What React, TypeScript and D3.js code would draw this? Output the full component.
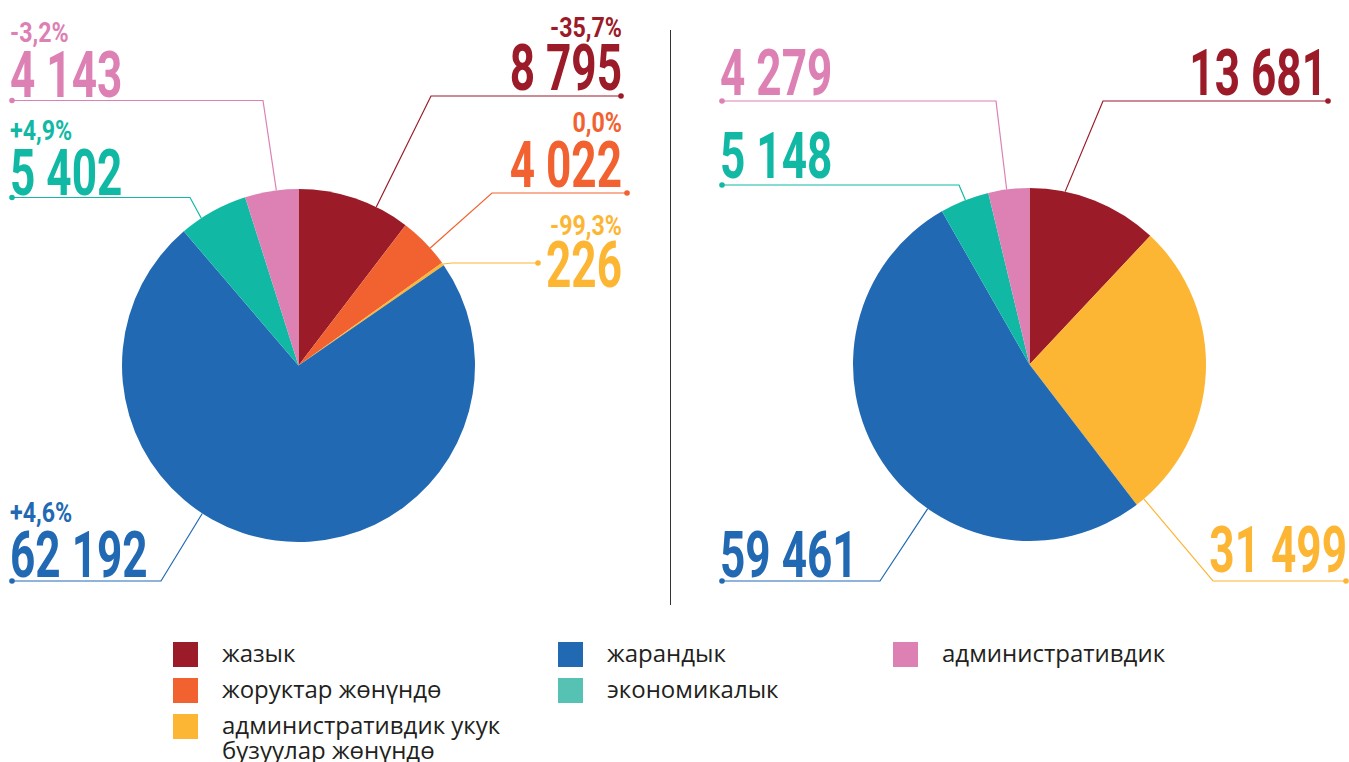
import React from 'react';
import * as d3 from 'd3';

// categories in pie order (clockwise from 12 o'clock)
const categories = [
  'жазык',
  'жоруктар жөнүндө',
  'административдик укук бузуулар жөнүндө',
  'жарандык',
  'экономикалык',
  'административдик',
];
const sliceColors = ['#9b1b28', '#f26230', '#fdb634', '#2269b3', '#11b9a5', '#dd80b4'];
const legendColors = ['#9b1b28', '#f26230', '#fdb634', '#2269b3', '#55c2b4', '#dd80b4'];

const leftValues = [8795, 4022, 226, 62192, 5402, 4143];
const leftChanges = ['-35,7%', '0,0%', '-99,3%', '+4,6%', '+4,9%', '-3,2%'];
const rightValues = [13681, 0, 31499, 59461, 5148, 4279];

// label placement (layout only)
const leftLayout = [
  { align: 'end', x: 622, pctY: 37, numY: 90, lineY: 96, dotX: 621, elbowX: 431, t: 0.7 },
  { align: 'end', x: 622, pctY: 132, numY: 187, lineY: 193, dotX: 627, elbowX: 492, t: 0.64 },
  { align: 'end', x: 622, pctY: 235, numY: 287, lineY: 263, dotX: 538, elbowX: 452, t: 0.5 },
  { align: 'start', x: 10, pctY: 522, numY: 577, lineY: 581, dotX: 12, elbowX: 161, t: 0.597 },
  { align: 'start', x: 10, pctY: 140, numY: 195, lineY: 197.5, dotX: 12, elbowX: 190, t: 0.31 },
  { align: 'start', x: 10, pctY: 42, numY: 97, lineY: 100.5, dotX: 12, elbowX: 263, t: 0.59 },
];
const rightLayout = [
  { align: 'end', x: 1327, numY: 95, lineY: 101, dotX: 1328, elbowX: 1103, t: 0.27 },
  null,
  { align: 'end', x: 1347, numY: 572, lineY: 581, dotX: 1346, elbowX: 1213, t: 0.97 },
  { align: 'start', x: 720, numY: 577, lineY: 581, dotX: 722, elbowX: 880, t: 0.387 },
  { align: 'start', x: 720, numY: 178, lineY: 185, dotX: 722, elbowX: 959, t: 0.52 },
  { align: 'start', x: 720, numY: 95, lineY: 101, dotX: 722, elbowX: 996, t: 0.45 },
];

const legendCols = [[0, 1, 2], [3, 4], [5]];
const legendX = [173, 558, 893];
const legendY = [642, 678, 714];

const W = 1349;
const H = 762;
const R = 176.5;
const NUM_FONT = "Roboto, 'Liberation Sans', sans-serif";

const fmt = (v: number) => d3.format(',')(v).replace(/,/g, ' ');

function Pie({ cx, cy, values, changes, layout }: any) {
  const pie = d3.pie<number>().sort(null).value(d => d);
  const arcs = pie(values);
  const arc = d3.arc<any>().innerRadius(0).outerRadius(R);

  return (
    <g>
      <g transform={`translate(${cx},${cy})`}>
        {arcs.map((a, i) => (
          a.value > 0 ? <path key={i} d={arc(a) as string} fill={sliceColors[i]} /> : null
        ))}
      </g>
      {arcs.map((a, i) => {
        const l = layout[i];
        if (!l || a.value <= 0) return null;
        const ang = a.startAngle + (a.endAngle - a.startAngle) * l.t;
        const ex = cx + R * Math.sin(ang);
        const ey = cy - R * Math.cos(ang);
        const color = sliceColors[i];
        return (
          <g key={i}>
            <polyline
              points={`${l.dotX},${l.lineY} ${l.elbowX},${l.lineY} ${ex},${ey}`}
              fill="none"
              stroke={color}
              strokeWidth={1.2}
            />
            <circle cx={l.dotX} cy={l.lineY} r={2.8} fill={color} />
            {changes && (
              <text
                transform={`translate(${l.x},${l.pctY}) scale(0.86,1)`}
                textAnchor={l.align}
                fill={color}
                fontFamily={NUM_FONT}
                fontWeight="bold"
                fontSize={27}
              >
                {changes[i]}
              </text>
            )}
            <text
              transform={`translate(${l.x},${l.numY}) scale(0.69,1)`}
              textAnchor={l.align}
              fill={color}
              fontFamily={NUM_FONT}
              fontWeight="bold"
              fontSize={64}
            >
              {fmt(a.value)}
            </text>
          </g>
        );
      })}
    </g>
  );
}

export default function App() {
  return (
    <div style={{ width: W, height: H, background: '#fff' }}>
      <style>{'body{margin:0}'}</style>
      <svg width={W} height={H} viewBox={`0 0 ${W} ${H}`}>
        <rect width={W} height={H} fill="#fff" />
        <Pie cx={298.5} cy={365.5} values={leftValues} changes={leftChanges} layout={leftLayout} />
        <Pie cx={1029.5} cy={364.5} values={rightValues} changes={null} layout={rightLayout} />
        <line x1={670.5} x2={670.5} y1={30} y2={605} stroke="#333" strokeWidth={1} />
        {legendCols.map((col, ci) =>
          col.map((idx, ri) => {
            const words = categories[idx] === 'административдик укук бузуулар жөнүндө'
              ? ['административдик укук', 'бузуулар жөнүндө']
              : [categories[idx]];
            return (
              <g key={idx} transform={`translate(${legendX[ci]},${legendY[ri]})`}>
                <rect width={25} height={25} fill={legendColors[idx]} />
                <text
                  x={49}
                  y={19.5}
                  fontFamily="'Open Sans', sans-serif"
                  fontSize={24}
                  fill="#231f20"
                >
                  {words.map((w, k) => (
                    <tspan key={k} x={49} dy={k === 0 ? 0 : 25}>{w}</tspan>
                  ))}
                </text>
              </g>
            );
          })
        )}
      </svg>
    </div>
  );
}
